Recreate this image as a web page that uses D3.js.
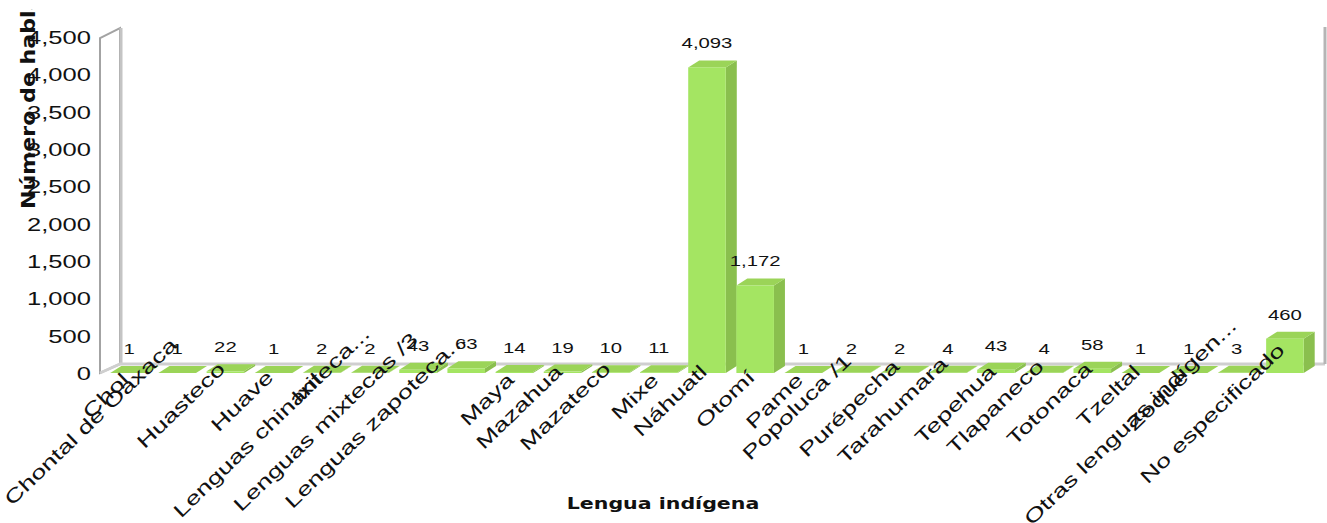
<!DOCTYPE html>
<html><head><meta charset="utf-8"><script src="https://cdn.jsdelivr.net/npm/d3@7"></script>
<style>html,body{margin:0;background:#fff;overflow:hidden}svg{display:block}text{font-family:"Liberation Sans",Arial,sans-serif;fill:#111}</style>
</head><body><script>
const categories=["Chol","Chontal de Oaxaca","Huasteco","Huave","Ixil","Lenguas chinanteca...","Lenguas mixtecas /3","Lenguas zapoteca...","Maya","Mazahua","Mazateco","Mixe","Náhuatl","Otomí","Pame","Popoluca /1","Purépecha","Tarahumara","Tepehua","Tlapaneco","Totonaca","Tzeltal","Zoque","Otras lenguas indígen...","No especificado"];
const values=[1,1,22,1,2,2,43,63,14,19,10,11,4093,1172,1,2,2,4,43,4,58,1,1,3,460];
const yTicks=[0,500,1000,1500,2000,2500,3000,3500,4000,4500];
const xTitle="Lengua indígena", yTitle="Número de hablantes";
const W=1327,H=523, depthX=11, depthY=7;
const svg=d3.select("body").append("svg").attr("width",W).attr("height",H);
const x=d3.scaleBand().domain(categories).range([105,1309]).paddingInner(0.22).paddingOuter(0.11);
const y=d3.scaleLinear().domain([0,4500]).range([373,37]);
const fmt=d3.format(",");
// walls
const wall=svg.append("g").attr("fill","none");
wall.append("path").attr("d",`M100,${y(0)}V${y(4500)+1}L120,${y(4500)-9}V${y(0)-9}Z`).attr("stroke","#a3a3a3").attr("stroke-width",2);
wall.append("path").attr("d",`M121,${y(4500)-9}V${y(0)-9}`).attr("stroke","#c4c4c4").attr("stroke-width",3);
wall.append("path").attr("d",`M100,${y(0)}L120,${y(0)-9}H1325`).attr("stroke","#cfcfcf").attr("stroke-width",3);
wall.append("path").attr("d",`M1325,${y(0)-9}V${y(4500)-10}`).attr("stroke","#b5b5b5").attr("stroke-width",3);
// ticks
svg.append("g").selectAll("text").data(yTicks).join("text")
 .attr("text-anchor","end").attr("transform",d=>`translate(91,${y(d)+7}) scale(1.42,1)`)
 .style("font-size","18px").text(d=>fmt(d));
// bars
const bars=svg.append("g").selectAll("g").data(categories.map((c,i)=>({c,v:values[i]}))).join("g")
 .attr("transform",d=>`translate(${x(d.c)},0)`);
const bw=x.bandwidth();
bars.append("path").attr("fill","#8abf4e").attr("d",d=>`M${bw},${y(d.v)}l${depthX},${-depthY}V${y(0)-depthY}L${bw},${y(0)}Z`);
bars.append("path").attr("fill","#9bd458").attr("d",d=>`M0,${y(d.v)}l${depthX},${-depthY}h${bw}l${-depthX},${depthY}Z`);
bars.append("rect").attr("fill","#a4e562").attr("width",bw).attr("y",d=>y(d.v)).attr("height",d=>y(0)-y(d.v));
// value labels
svg.append("g").selectAll("text").data(categories.map((c,i)=>({c,v:values[i]}))).join("text")
 .attr("text-anchor","middle").attr("transform",d=>`translate(${x(d.c)+bw/2},${y(d.v)-19}) scale(1.45,1)`)
 .style("font-size","14px").text(d=>fmt(d.v));
// category labels
svg.append("g").selectAll("text").data(categories).join("text")
 .attr("text-anchor","end").attr("transform",d=>`translate(${x(d)+bw/2+1},${392-2.7*d.length}) rotate(-44) scale(1.42,1)`)
 .style("font-size","19px").text(d=>d);
// titles
svg.append("text").attr("text-anchor","middle").attr("transform","translate(663,509) scale(1.37,1)")
 .style("font-family","'DejaVu Sans'").style("font-weight","bold").style("font-size","15px").text(xTitle);
svg.append("clipPath").attr("id","yc").append("rect").attr("x",0).attr("y",9).attr("width",60).attr("height",300);
svg.append("g").attr("clip-path","url(#yc)").append("text").attr("transform","translate(35,209) rotate(-90) scale(1.58,1.45)")
 .style("font-family","'DejaVu Sans'").style("font-weight","bold").style("font-size","14px").text(yTitle);
</script></body></html>
